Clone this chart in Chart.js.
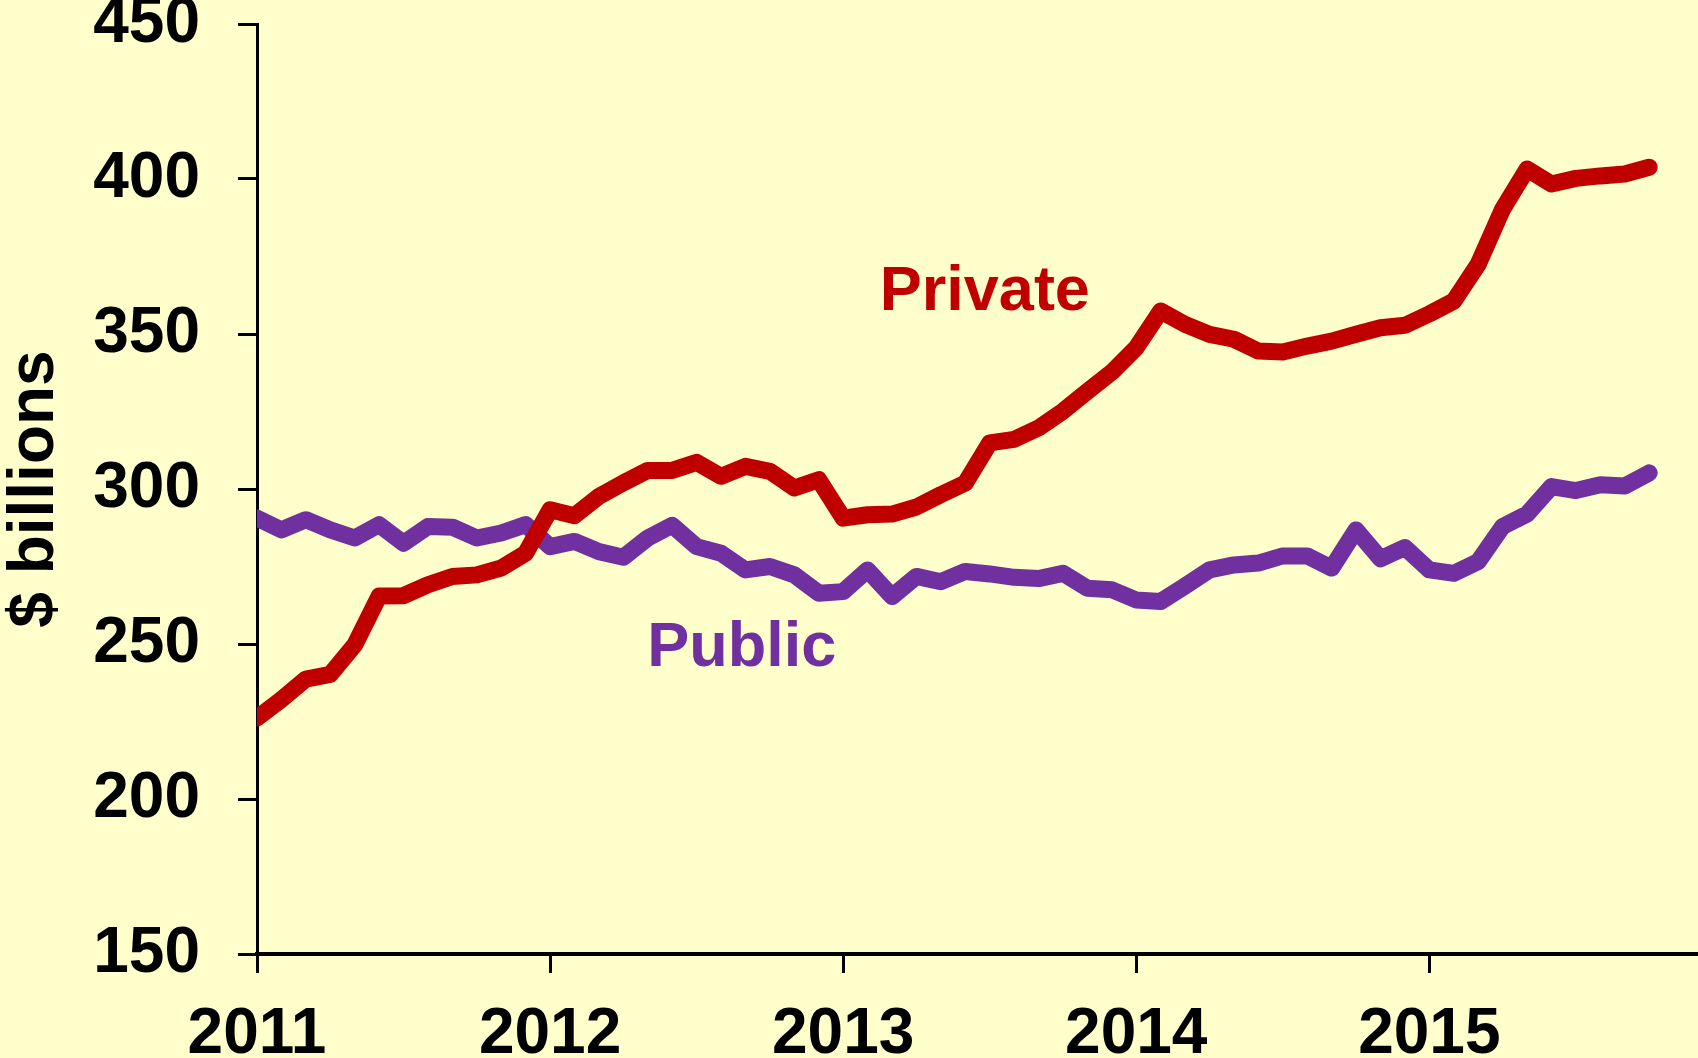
<!DOCTYPE html>
<html>
<head>
<meta charset="utf-8">
<script src="https://cdn.jsdelivr.net/npm/chart.js@4.4.1/dist/chart.umd.min.js"></script>
<style>
  html, body { margin: 0; padding: 0; background: #FFFFCC; }
  #wrap { width: 1698px; height: 1058px; position: relative; }
</style>
</head>
<body>
<div id="wrap"><canvas id="c"></canvas></div>
<script>
// Monthly values, Jan 2011 .. Oct 2015 ($ billions)
const privateVals = [
  226.1, 232.1, 238.7, 240.2, 249.7, 265.5, 265.6, 269.1, 271.8, 272.3, 274.5, 279.3,
  293.3, 291.4, 297.6, 302.0, 306.0, 306.0, 308.6, 304.1, 307.3, 305.7, 300.3, 303.0,
  290.6, 291.7, 291.9, 294.2, 298.2, 301.9, 314.9, 316.0, 319.7, 325.1, 331.5, 337.7,
  345.6, 357.4, 353.1, 349.9, 348.3, 344.5, 344.2, 346.1, 347.7, 349.9, 352.0, 352.8,
  356.5, 360.6, 372.5, 390.3, 403.2, 398.4, 400.2, 401.0, 401.6, 403.8
];
const publicVals = [
  290.6, 286.8, 290.1, 286.8, 284.2, 288.5, 282.5, 287.9, 287.7, 284.2, 285.8, 288.5,
  281.4, 283.1, 279.8, 278.0, 284.2, 288.3, 281.4, 279.3, 273.9, 275.0, 272.3, 266.4,
  266.9, 273.9, 265.3, 271.8, 270.1, 273.4, 272.6, 271.5, 271.1, 272.8, 268.0, 267.5,
  264.2, 263.7, 268.7, 273.9, 275.5, 276.1, 278.4, 278.4, 274.5, 286.8, 277.5, 281.1,
  273.9, 272.8, 276.6, 287.9, 291.9, 300.8, 299.5, 301.4, 301.0, 305.2
];
const yearLabels = ['2011', '2012', '2013', '2014', '2015'];
const seriesNames = ['Private', 'Public'];
// label anchors in data units: [month index, value at text baseline]
const labelAnchors = [[29.8, 357.8], [19.85, 242.9]];

const RED = '#C00000';
const PURPLE = '#7030A0';

const toPoints = arr => arr.map((v, i) => ({ x: i, y: v }));

const bgPlugin = {
  id: 'bg',
  beforeDraw(chart) {
    const ctx = chart.ctx;
    ctx.save();
    ctx.fillStyle = '#FFFFCC';
    ctx.fillRect(0, 0, chart.width, chart.height);
    ctx.restore();
  }
};

const seriesLabelPlugin = {
  id: 'seriesLabels',
  afterDatasetsDraw(chart) {
    const ctx = chart.ctx;
    const xs = chart.scales.x, ys = chart.scales.y;
    ctx.save();
    ctx.font = 'bold 63px "Liberation Sans", Arial, sans-serif';
    ctx.textAlign = 'center';
    ctx.textBaseline = 'alphabetic';
    chart.data.datasets.forEach((ds, k) => {
      ctx.fillStyle = ds.borderColor;
      const a = labelAnchors[k];
      ctx.fillText(seriesNames[k], xs.getPixelForValue(a[0]), ys.getPixelForValue(a[1]));
    });
    ctx.restore();
  }
};

const lineStyle = { borderWidth: 17, tension: 0, borderCapStyle: 'round', borderJoinStyle: 'round', pointRadius: 0, pointHoverRadius: 0 };

new Chart(document.getElementById('c'), {
  type: 'line',
  data: {
    datasets: [
      Object.assign({ label: seriesNames[0], data: toPoints(privateVals), borderColor: RED, backgroundColor: RED }, lineStyle),
      Object.assign({ label: seriesNames[1], data: toPoints(publicVals), borderColor: PURPLE, backgroundColor: PURPLE }, lineStyle)
    ]
  },
  options: {
    responsive: true,
    maintainAspectRatio: false,
    animation: false,
    layout: { padding: { top: 24, left: 0, right: 0, bottom: 0 } },
    elements: { line: { borderWidth: 17 } },
    plugins: { legend: { display: false }, tooltip: { enabled: false } },
    scales: {
      x: {
        type: 'linear',
        min: 0,
        max: 59,
        afterBuildTicks(axis) {
          axis.ticks = yearLabels.map((_, k) => ({ value: k * 12 }));
        },
        afterFit(scale) {
          scale.height = 104;
          scale.paddingLeft = 0;
          scale.paddingRight = 0;
        },
        ticks: {
          autoSkip: false,
          maxRotation: 0,
          padding: 24,
          color: '#000',
          font: { family: '"Liberation Sans", Arial, sans-serif', size: 64, weight: 'bold' },
          callback: (v, idx) => yearLabels[idx]
        },
        grid: { drawOnChartArea: false, drawTicks: true, tickLength: 19, tickWidth: 3, tickColor: '#000' },
        border: { display: true, color: '#000', width: 4 }
      },
      y: {
        min: 150,
        max: 450,
        afterFit(scale) {
          scale.width = 257;
          scale.paddingTop = 0;
          scale.paddingBottom = 0;
        },
        ticks: {
          stepSize: 50,
          padding: 38,
          color: '#000',
          font: { family: '"Liberation Sans", Arial, sans-serif', size: 64, weight: 'bold' }
        },
        title: {
          display: true,
          text: '$ billions',
          color: '#000',
          padding: { top: 3, bottom: 0 },
          font: { family: '"Liberation Sans", Arial, sans-serif', size: 64, weight: 'bold', lineHeight: 1 }
        },
        grid: { drawOnChartArea: false, drawTicks: true, tickLength: 19, tickWidth: 3, tickColor: '#000' },
        border: { display: true, color: '#000', width: 3 }
      }
    }
  },
  plugins: [bgPlugin, seriesLabelPlugin]
});
</script>
</body>
</html>
